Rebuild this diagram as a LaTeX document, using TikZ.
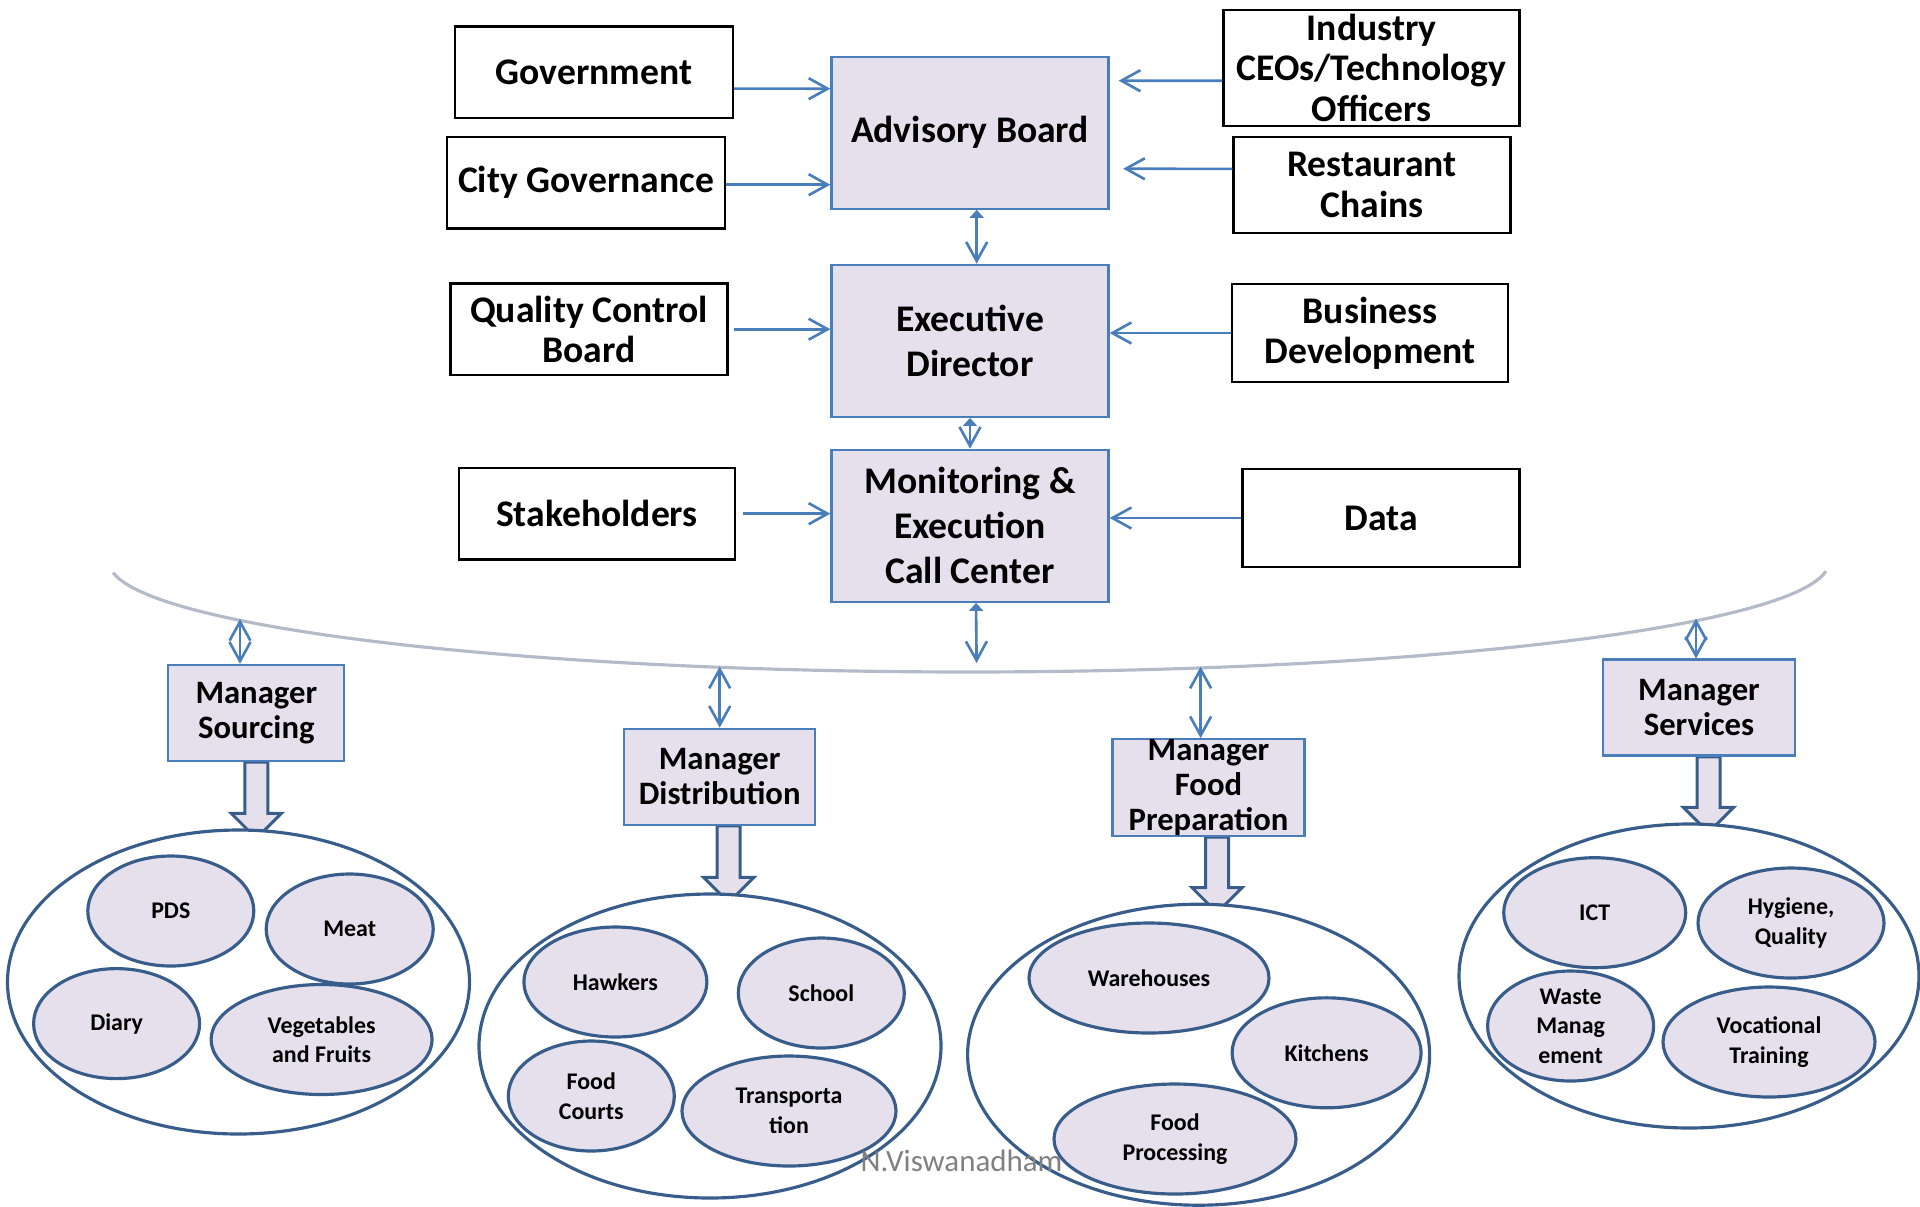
\documentclass[tikz,border=0pt]{standalone}
\usepackage{fontspec}
\setmainfont{Carlito}
\usepackage{xcolor}
\usetikzlibrary{positioning,shapes.geometric,arrows.meta,calc}

\pgfdeclarelayer{back}
\pgfsetlayers{back,main}

\definecolor{lav}{HTML}{E6E0EC}
\definecolor{midblue}{HTML}{4A7EBB}
\definecolor{darkblue}{HTML}{385D8A}
\definecolor{arcgray}{HTML}{B3BAC8}
\definecolor{wmgray}{HTML}{808080}

% wide hollow arrow from a manager box down into its group
\newcommand{\blockdown}[3]{%
  \draw[blockarr] let \p1=([xshift=#3]#1.south), \p2=(#2.north) in
    (\x1-1.15mm,\y1) -- (\x1-1.15mm,\y2+1.5mm) -- (\x1-2.5mm,\y2+1.5mm)
    -- (\x1,\y2-1mm) -- (\x1+2.5mm,\y2+1.5mm) -- (\x1+1.15mm,\y2+1.5mm)
    -- (\x1+1.15mm,\y1) -- cycle;}

\begin{document}
\begin{tikzpicture}[x=1cm, y=1cm,
  >={Straight Barb[length=1.9mm,width=2.1mm]},
  side/.style={draw, rectangle, line width=0.65pt, inner sep=0pt, align=center,
    font=\fontsize{10.7}{11.5}\selectfont\bfseries},
  hub/.style={draw=midblue, fill=lav, rectangle, line width=0.65pt, inner sep=0pt,
    minimum width=2.77cm, minimum height=1.52cm, align=center,
    font=\fontsize{10.7}{12.8}\selectfont\bfseries},
  mgr/.style={draw=midblue, fill=lav, rectangle, line width=0.65pt, inner sep=0pt,
    minimum width=1.92cm, minimum height=0.96cm, align=center,
    font=\fontsize{9.3}{10}\selectfont\bfseries},
  group/.style={draw=darkblue, fill=white, ellipse, line width=0.9pt, inner sep=0pt,
    minimum width=4.62cm, minimum height=3.04cm},
  item/.style={draw=darkblue, fill=lav, ellipse, line width=0.9pt, inner sep=0pt,
    minimum height=1.1cm, align=center, font=\fontsize{6.8}{8.4}\selectfont\bfseries},
  link/.style={midblue, line width=0.75pt},
  blockarr/.style={draw=darkblue, fill=lav, line width=0.85pt, line join=miter}]

  \useasboundingbox (0,0) rectangle (19.2,-12.06);

  % central column
  \node[hub] (AB) at (9.70,-1.327) {Advisory Board};
  \node[hub, below=0.538cm of AB] (ED) {Executive\\Director};
  \node[hub, below=0.307cm of ED] (MC) {Monitoring \&\\Execution\\Call Center};

  % inputs
  \node[side, minimum width=2.78cm, minimum height=0.913cm] (GOV) at (5.94,-0.722) {Government};
  \node[side, minimum width=2.78cm, minimum height=0.917cm] (CG) at (5.86,-1.827) {City Governance};
  \node[side, minimum width=2.77cm, minimum height=0.913cm] (QC) at (5.89,-3.292) {Quality Control\\Board};
  \node[side, minimum width=2.76cm, minimum height=0.917cm] (SH) at (5.97,-5.137) {Stakeholders};
  \node[side, minimum width=2.96cm, minimum height=1.158cm] (IC) at (13.716,-0.678) {Industry\\CEOs/Technology\\Officers};
  \node[side, minimum width=2.77cm, minimum height=0.961cm] (RC) at (13.72,-1.849) {Restaurant\\Chains};
  \node[side, minimum width=2.76cm, minimum height=0.98cm] (BD) at (13.70,-3.33) {Business\\Development};
  \node[side, minimum width=2.77cm, minimum height=0.98cm] (DT) at (13.81,-5.18) {Data};

  \draw[link,->] ([yshift=-1.64mm]GOV.east) -- ([yshift=4.40mm]AB.west);
  \draw[link,->] ([yshift=-0.2mm]CG.east) -- ([yshift=-5.2mm]AB.west);
  \draw[link,->, shorten >=0.9mm] ([yshift=-1.29mm]IC.west) -- ([yshift=5.2mm]AB.east);
  \draw[link,->, shorten >=1.35mm] ([yshift=1.6mm]RC.west) -- ([yshift=-3.6mm]AB.east);
  \draw[link,->, shorten <=0.55mm] (QC.east) -- (QC.east -| ED.west);
  \draw[link,->] (BD.west) -- (BD.west -| ED.east);
  \draw[link,->, shorten <=0.65mm] (SH.east) -- (SH.east -| MC.west);
  \draw[link,->] (DT.west) -- (DT.west -| MC.east);

  \draw[link,{Triangle[length=0.8mm,width=1.4mm]}->] ([xshift=0.67mm]AB.south) -- ([xshift=0.67mm]ED.north);
  \draw[link,{Triangle[length=0.8mm,width=1.4mm]}->] (ED.south) -- (ED.south |- MC.north);

  % the bar that all managers hang from
  \draw[arcgray, line width=0.9pt] (1.131,-5.727) arc[start angle=185.6, end angle=355.2, x radius=8.6, y radius=1.1];
  \coordinate (HB) at (9.766,-6.63);
  \coordinate (S1) at (2.40,-6.19);
  \coordinate (S2) at (7.197,-6.666);
  \coordinate (S3) at (12.006,-6.666);
  \coordinate (S4) at (16.96,-6.186);
  \draw[link,{Triangle[length=0.8mm,width=1.4mm]}->] ([xshift=0.6mm]MC.south) -- (HB);

  % managers
  \node[mgr, minimum width=1.76cm] (MS) at (2.563,-7.129) {Manager\\Sourcing};
  \node[mgr, minimum width=1.91cm] (MD) at (7.197,-7.768) {Manager\\Distribution};
  \node[mgr] (MF) at (12.085,-7.876) {Manager\\Food\\Preparation};
  \node[mgr] (MV) at (16.99,-7.076) {Manager\\Services};

  \draw[link,<->] (S1) -- (S1 |- MS.north);
  \draw[link,<->] (S2) -- (S2 |- MD.north);
  \draw[link,<->] (S3) -- (S3 |- MF.north);
  \draw[link,<->] (S4) -- (S4 |- MV.north);

  % groups
  \node[group] (GS) at (2.385,-9.82) {};
  \node[group] (GD) at (7.10,-10.46) {};
  \node[group, minimum height=3.01cm] (GF) at (11.986,-10.547) {};
  \node[group, minimum width=4.60cm] (GV) at (16.89,-9.76) {};

  \begin{pgfonlayer}{back}
    \blockdown{MS}{GS}{0mm}
    \blockdown{MD}{GD}{0.9mm}
    \blockdown{MF}{GF}{0.85mm}
    \blockdown{MV}{GV}{0.95mm}
  \end{pgfonlayer}

  \node[item, minimum width=1.66cm] (PDS) at (1.708,-9.11) {PDS};
  \node[item, minimum width=1.67cm] (MT) at (3.497,-9.29) {Meat};
  \node[item, minimum width=1.66cm] (DY) at (1.166,-10.236) {Diary};
  \node[item, minimum width=2.21cm] (VF) at (3.216,-10.395) {Vegetables\\and Fruits};

  \node[item, minimum width=1.83cm] (HK) at (6.154,-9.82) {Hawkers};
  \node[item, minimum width=1.66cm] (SC) at (8.213,-9.93) {School};
  \node[item, minimum width=1.66cm] (FC) at (5.913,-10.96) {Food\\Courts};
  \node[item, minimum width=2.14cm] (TR) at (7.89,-11.11) {Transporta\\tion};

  \node[item, minimum width=2.40cm] (WH) at (11.49,-9.78) {Warehouses};
  \node[item, minimum width=1.89cm] (KT) at (13.266,-10.528) {Kitchens};
  \node[item, minimum width=2.42cm] (FP) at (11.75,-11.39) {Food\\Processing};

  \node[item, minimum width=1.82cm] (ICT) at (15.947,-9.127) {ICT};
  \node[item, minimum width=1.86cm] (HQ) at (17.91,-9.23) {Hygiene,\\Quality};
  \node[item, minimum width=1.66cm] (WM) at (15.706,-10.26) {Waste\\Manag\\ement};
  \node[item, minimum width=2.12cm] (VT) at (17.69,-10.42) {Vocational\\Training};

  \node[text=wmgray, font=\fontsize{8.8}{10}\selectfont, anchor=base] (NV) at (9.615,-11.71) {N.Viswanadham};
\end{tikzpicture}
\end{document}
